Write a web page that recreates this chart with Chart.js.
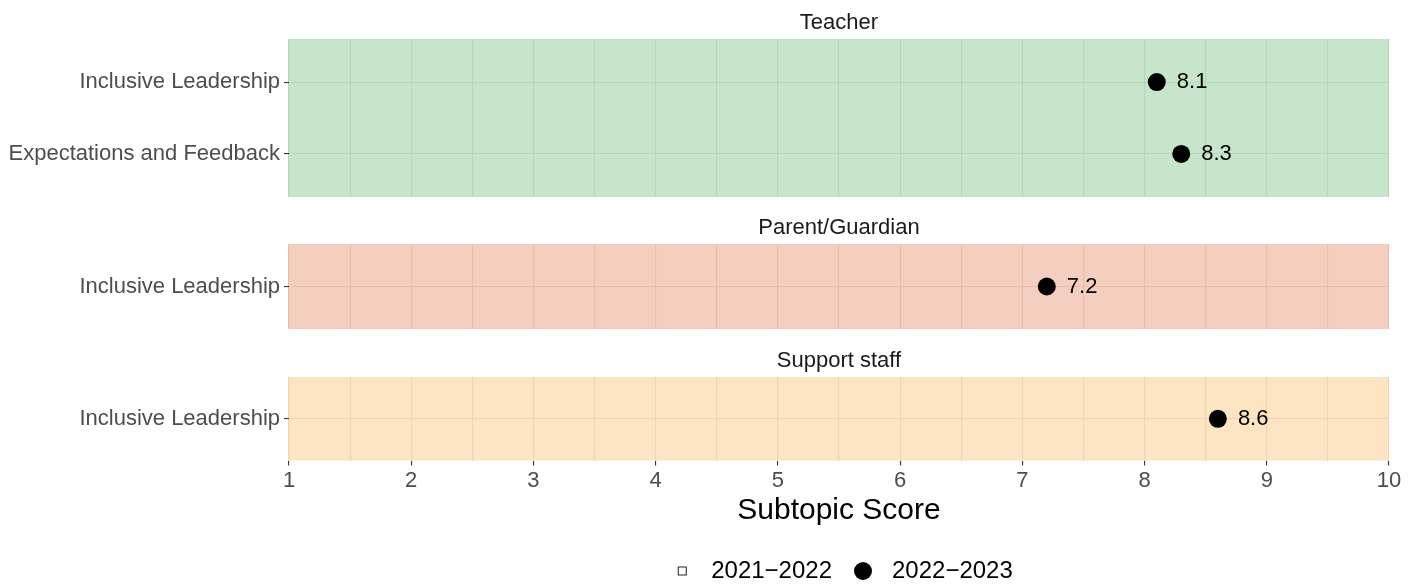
<!DOCTYPE html>
<html>
<head>
<meta charset="utf-8">
<title>Subtopic Score</title>
<script src="https://cdn.jsdelivr.net/npm/chart.js@4.4.1/dist/chart.umd.min.js"></script>
<style>
  html, body { margin: 0; padding: 0; background: #fff; overflow: hidden; }
  .facet { position: absolute; left: 0; width: 1415px; }
</style>
</head>
<body>
<div class="facet" style="top:0;height:200px"><canvas id="teacherChart"></canvas></div>
<div class="facet" style="top:200px;height:132px"><canvas id="parentChart"></canvas></div>
<div class="facet" style="top:332px;height:261px"><canvas id="staffChart"></canvas></div>
<script>
// data
const seriesNames = ['2021\u22122022', '2022\u22122023'];
const facetNames = ['Teacher', 'Parent/Guardian', 'Support staff'];

const teacherSubtopics = ['Inclusive Leadership', 'Expectations and Feedback'];
const teacherScores2122 = [];
const teacherScores2223 = [8.1, 8.3];

const parentSubtopics = ['Inclusive Leadership'];
const parentScores2122 = [];
const parentScores2223 = [7.2];

const staffSubtopics = ['Inclusive Leadership'];
const staffScores2122 = [];
const staffScores2223 = [8.6];

const scoreTicks = [1, 2, 3, 4, 5, 6, 7, 8, 9, 10];

Chart.defaults.font.family = '"Liberation Sans", Arial, Helvetica, sans-serif';
Chart.defaults.animation = false;

// major + minor grid positions (minor halfway between labelled ticks)
const gridSteps = scoreTicks.flatMap((t, i) => i ? [(t + scoreTicks[i - 1]) / 2, t] : [t]);

function makeIcon(size, draw) {
  const c = document.createElement('canvas');
  c.width = size;
  c.height = size;
  draw(c.getContext('2d'));
  return c;
}
const legendIcons = [
  makeIcon(11, g => { g.strokeStyle = '#222'; g.lineWidth = 1; g.strokeRect(1.5, 1.5, 8, 8); }),
  makeIcon(20, g => { g.fillStyle = '#000'; g.beginPath(); g.arc(10, 10, 9, 0, Math.PI * 2); g.fill(); })
];

const panelBackground = {
  id: 'panelBackground',
  beforeDraw(chart, args, opts) {
    const a = chart.chartArea;
    chart.ctx.save();
    chart.ctx.fillStyle = opts.color;
    chart.ctx.fillRect(a.left, a.top, a.right - a.left, a.bottom - a.top);
    chart.ctx.restore();
  }
};

const pointLabels = {
  id: 'pointLabels',
  afterDatasetsDraw(chart) {
    const ctx = chart.ctx;
    ctx.save();
    ctx.font = '22px "Liberation Sans", Arial, sans-serif';
    ctx.fillStyle = '#000';
    ctx.textAlign = 'left';
    ctx.textBaseline = 'middle';
    chart.data.datasets.forEach((ds, di) => {
      chart.getDatasetMeta(di).data.forEach((pt, i) => {
        ctx.fillText(ds.data[i].x.toFixed(1), pt.x + 20, pt.y);
      });
    });
    ctx.restore();
  }
};

function makeFacet(id, title, subtopics, scores2122, scores2223, look) {
  const toPoints = arr => arr.map((v, i) => ({ x: v, y: i }));
  const isLast = look.showAxis;
  return new Chart(document.getElementById(id), {
    type: 'scatter',
    data: {
      datasets: [
        {
          label: seriesNames[0],
          data: toPoints(scores2122),
          pointStyle: 'rect',
          pointRadius: 5,
          pointBackgroundColor: '#fff',
          pointBorderColor: '#000',
          pointBorderWidth: 1
        },
        {
          label: seriesNames[1],
          data: toPoints(scores2223),
          pointStyle: 'circle',
          pointRadius: 9,
          pointHoverRadius: 9,
          pointBackgroundColor: '#000',
          pointBorderWidth: 0
        }
      ]
    },
    options: {
      responsive: true,
      maintainAspectRatio: false,
      events: [],
      layout: {
        autoPadding: false,
        padding: { left: 0, right: 26, top: look.padTop, bottom: look.padBottom }
      },
      plugins: {
        panelBackground: { color: look.bg },
        tooltip: { enabled: false },
        legend: {
          display: isLast,
          position: 'bottom',
          fullSize: false,
          labels: {
            usePointStyle: true,
            pointStyleWidth: 34,
            padding: 14,
            color: '#000',
            font: { size: 24 },
            generateLabels: () => seriesNames.map((name, i) => ({
              text: name,
              pointStyle: legendIcons[i],
              fillStyle: '#000',
              strokeStyle: '#000',
              lineWidth: 0,
              hidden: false,
              datasetIndex: i
            }))
          }
        }
      },
      scales: {
        x: {
          type: 'linear',
          min: scoreTicks[0],
          max: scoreTicks[scoreTicks.length - 1],
          afterBuildTicks: s => { s.ticks = gridSteps.map(v => ({ value: v })); },
          afterFit: s => { s.paddingLeft = 0; s.paddingRight = 0; },
          border: { display: false },
          grid: {
            color: look.grid,
            lineWidth: 1.1,
            drawTicks: isLast,
            tickLength: 5,
            tickWidth: 1.1,
            tickColor: c => Number.isInteger(c.tick && c.tick.value) ? '#333333' : 'rgba(0,0,0,0)'
          },
          ticks: {
            display: isLast,
            autoSkip: false,
            maxRotation: 0,
            padding: 2,
            color: '#4D4D4D',
            font: { size: 22 },
            callback: v => scoreTicks.includes(v) ? String(v) : ''
          },
          title: {
            display: isLast,
            text: 'Subtopic Score',
            color: '#000',
            font: { size: 30, lineHeight: 1 },
            padding: { top: 0, bottom: 19 }
          }
        },
        strip: {
          type: 'linear',
          position: 'top',
          min: scoreTicks[0],
          max: scoreTicks[scoreTicks.length - 1],
          grid: { display: false, drawTicks: false },
          border: { display: false },
          ticks: { display: false },
          title: {
            display: true,
            text: title,
            color: '#1A1A1A',
            font: { size: 22 },
            padding: { top: 9.8, bottom: 2.8 }
          }
        },
        y: {
          type: 'linear',
          reverse: true,
          min: -0.6,
          max: subtopics.length - 0.4,
          afterBuildTicks: s => { s.ticks = subtopics.map((_, i) => ({ value: i })); },
          afterFit: s => { s.width = 289; s.paddingTop = 0; s.paddingBottom = 0; },
          border: { display: false },
          grid: {
            color: look.grid,
            lineWidth: 1.1,
            drawTicks: true,
            tickLength: 5,
            tickWidth: 1.1,
            tickColor: '#333333'
          },
          ticks: {
            autoSkip: false,
            padding: 4,
            color: '#4D4D4D',
            font: { size: 22 },
            callback: v => subtopics[v]
          }
        }
      }
    },
    plugins: [panelBackground, pointLabels]
  });
}

makeFacet('teacherChart', facetNames[0], teacherSubtopics, teacherScores2122, teacherScores2223,
  { bg: '#C6E5CA', grid: '#B3D9BA', padTop: 0, padBottom: 3, showAxis: false });
makeFacet('parentChart', facetNames[1], parentSubtopics, parentScores2122, parentScores2223,
  { bg: '#F4CEBE', grid: '#E8BFAD', padTop: 5, padBottom: 3, showAxis: false });
makeFacet('staffChart', facetNames[2], staffSubtopics, staffScores2122, staffScores2223,
  { bg: '#FDE4C3', grid: '#F0D5B0', padTop: 6, padBottom: 0, showAxis: true });
</script>
</body>
</html>
